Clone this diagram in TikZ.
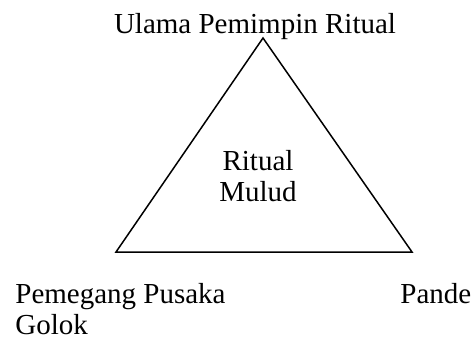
\documentclass[tikz,border=0pt]{standalone}
\usepackage{fontspec}
\setmainfont{Liberation Serif}
\usepackage{tikz}

\begin{document}
\begin{tikzpicture}[x=0.5pt,y=-0.5pt,
  lbl/.style={inner sep=0pt,font=\fontsize{14.5}{15.5}\selectfont,align=left}]
  \useasboundingbox (0,0) rectangle (474,339);
  \coordinate (top) at (263,38);
  \coordinate (left) at (116,252);
  \coordinate (right) at (412,252);
  \node[lbl, anchor=base] (ulama) at (255,33) {Ulama Pemimpin Ritual};
  \node[lbl, anchor=base, align=center] (ritual) at (258,201) {Ritual\\Mulud};
  \node[lbl, anchor=base west] (pemegang) at (15,334) {Pemegang Pusaka\\Golok};
  \node[lbl, anchor=base west] (pande) at (400,303) {Pande};
  % Draw the triangle
  \draw[line width=0.75pt] (top) -- (left) -- (right) -- cycle;
\end{tikzpicture}
\end{document}
